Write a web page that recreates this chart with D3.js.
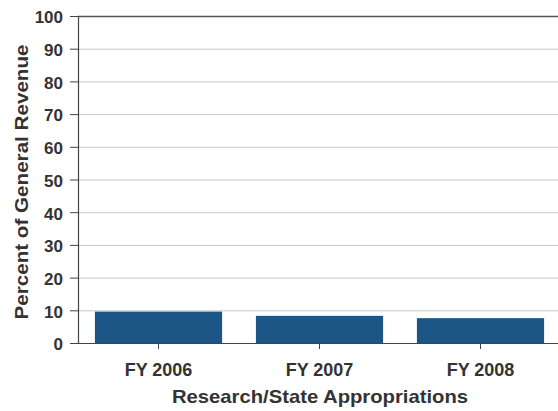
<!DOCTYPE html>
<html>
<head>
<meta charset="utf-8">
<script src="https://cdn.jsdelivr.net/npm/d3@7"></script>
<style>
  html, body { margin: 0; padding: 0; background: #fff; }
  svg { display: block; }
  text { font-family: "Liberation Sans", Arial, sans-serif; font-weight: bold; fill: #333; }
</style>
</head>
<body>
<div id="chart"></div>
<script>
// Share of general revenue coming from research/state appropriations
const categories = ["FY 2006", "FY 2007", "FY 2008"];
const values = [9.6, 8.3, 7.6];
const yTicks = [0, 10, 20, 30, 40, 50, 60, 70, 80, 90, 100];
const xTitle = "Research/State Appropriations";
const yTitle = "Percent of General Revenue";

const W = 558, H = 411;
const margin = { top: 16, right: -3, bottom: 68, left: 78 };
const plotW = W - margin.left - margin.right;
const plotH = H - margin.top - margin.bottom;

const svg = d3.select("#chart").append("svg")
  .attr("width", W).attr("height", H);

const g = svg.append("g").attr("transform", `translate(${margin.left},${margin.top})`);

const x = d3.scaleBand().domain(categories).range([0, plotW])
  .paddingInner(0.21).paddingOuter(0.105);
const y = d3.scaleLinear().domain([0, 100]).range([plotH, 0]);

// horizontal grid
g.append("g").selectAll("line").data(yTicks.filter(d => d > 0 && d < 100)).join("line")
  .attr("x1", 0).attr("x2", W).attr("y1", d => y(d) + 0.5).attr("y2", d => y(d) + 0.5)
  .attr("stroke", "#c8c8c8").attr("stroke-width", 1);

// top frame
g.append("line").attr("x1", 0).attr("x2", W).attr("y1", 0.5).attr("y2", 0.5)
  .attr("stroke", "#555").attr("stroke-width", 1.5);

// bars
g.append("g").selectAll("rect").data(values).join("rect")
  .attr("x", (d, i) => x(categories[i]))
  .attr("width", x.bandwidth())
  .attr("y", d => y(d))
  .attr("height", d => y(0) - y(d))
  .attr("fill", "#1b5687");

// y axis
const yAxis = g.append("g")
  .call(d3.axisLeft(y).tickValues(yTicks).tickSize(8).tickPadding(7).tickFormat(d3.format("d")));
yAxis.select(".domain").attr("stroke", "#444").attr("stroke-width", 1.2).attr("d", `M0.5,0V${plotH}`);
yAxis.selectAll(".tick line").attr("stroke", "#444");
yAxis.selectAll("text").style("font-size", "17px").attr("dy", "0.4em");

// x axis
const xAxis = g.append("g").attr("transform", `translate(0,${plotH})`)
  .call(d3.axisBottom(x).tickSize(6).tickPadding(14));
xAxis.select(".domain").attr("stroke", "#444").attr("stroke-width", 1.2).attr("d", `M-8,0.5H${W}`);
xAxis.selectAll(".tick line").attr("stroke", "#444");
xAxis.selectAll("text").style("font-size", "18px");

// axis titles
svg.append("text")
  .attr("x", 320).attr("y", 403)
  .attr("text-anchor", "middle")
  .attr("textLength", 296).attr("lengthAdjust", "spacingAndGlyphs")
  .style("font-size", "19px")
  .text(xTitle);

svg.append("text")
  .attr("transform", `translate(28,182) rotate(-90)`)
  .attr("text-anchor", "middle")
  .attr("textLength", 275).attr("lengthAdjust", "spacingAndGlyphs")
  .style("font-size", "18px")
  .text(yTitle);
</script>
</body>
</html>
